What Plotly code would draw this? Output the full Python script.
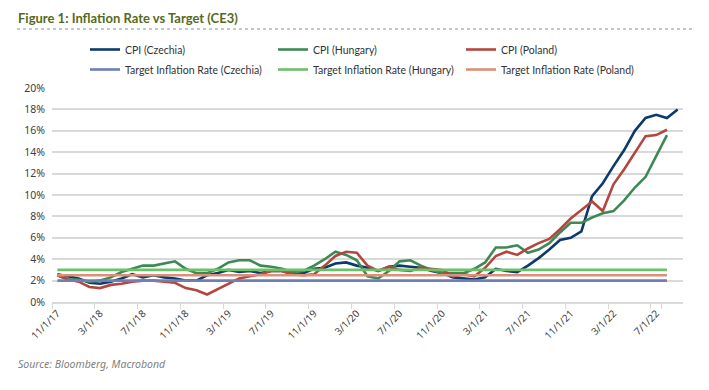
import pandas as pd
import plotly.graph_objects as go

# Monthly categories, Nov 2017 .. Sep 2022
months = pd.date_range("2017-11-01", "2022-09-01", freq="MS")
categories = [f"{d.month}/1/{d.year % 100:02d}" for d in months]

cpi_czechia = [2.6, 2.4, 2.2, 1.8, 1.7, 1.9, 2.2, 2.6, 2.3, 2.5, 2.3, 2.2,
               2.0, 2.0, 2.5, 2.7, 3.0, 2.8, 2.9, 2.7, 2.9, 2.9, 2.6, 2.7,
               3.1, 3.2, 3.6, 3.7, 3.4, 3.2, 2.9, 3.3, 3.4, 3.3, 3.2, 2.9,
               2.7, 2.3, 2.2, 2.1, 2.3, 3.1, 2.9, 2.8, 3.4, 4.1, 4.9, 5.8,
               6.0, 6.6, 9.9, 11.1, 12.7, 14.2, 16.0, 17.2, 17.5, 17.2, 18.0]

cpi_hungary = [2.5, 2.1, 2.1, 1.9, 2.0, 2.3, 2.8, 3.1, 3.4, 3.4, 3.6, 3.8,
               3.1, 2.7, 2.7, 3.1, 3.7, 3.9, 3.9, 3.4, 3.3, 3.1, 2.8, 2.9,
               3.4, 4.0, 4.7, 4.4, 3.9, 2.4, 2.2, 2.9, 3.8, 3.9, 3.4, 3.0,
               2.7, 2.7, 2.7, 3.1, 3.7, 5.1, 5.1, 5.3, 4.6, 4.9, 5.5, 6.5,
               7.4, 7.4, 7.9, 8.3, 8.5, 9.5, 10.7, 11.7, 13.7, 15.6]

cpi_poland = [2.5, 2.1, 1.9, 1.4, 1.3, 1.6, 1.7, 1.9, 2.0, 2.0, 1.9, 1.8,
              1.3, 1.1, 0.7, 1.2, 1.7, 2.2, 2.4, 2.6, 2.9, 2.9, 2.6, 2.5,
              2.6, 3.4, 4.3, 4.7, 4.6, 3.4, 2.9, 3.3, 3.0, 2.9, 3.2, 3.1,
              3.0, 2.4, 2.6, 2.4, 3.2, 4.3, 4.7, 4.4, 5.0, 5.5, 5.9, 6.8,
              7.8, 8.6, 9.4, 8.5, 11.0, 12.4, 13.9, 15.5, 15.6, 16.1]

target_czechia = 2.0
target_hungary = 3.0
target_poland = 2.5
n_target = len(cpi_hungary)

tick_labels = categories[::4]

series = [
    ("CPI (Czechia)", cpi_czechia, "#0c3a6c", "legend"),
    ("CPI (Hungary)", cpi_hungary, "#3d8953", "legend"),
    ("CPI (Poland)", cpi_poland, "#b3473f", "legend"),
    ("Target Inflation Rate (Czechia)", [target_czechia] * n_target, "#6e7eb6", "legend2"),
    ("Target Inflation Rate (Hungary)", [target_hungary] * n_target, "#6cc06a", "legend2"),
    ("Target Inflation Rate (Poland)", [target_poland] * n_target, "#dc9077", "legend2"),
]

fig = go.Figure()
for name, vals, color, leg in series:
    fig.add_trace(go.Scatter(
        x=categories[:len(vals)], y=vals, name=name, mode="lines",
        line=dict(color=color, width=2.6), legend=leg,
    ))

# The page body adds an 8px offset; figure laid out so that the
# plot area lands at x 52..683, y 88..302 of the window.
OFF = 8
W, H = 709 - 2 * OFF, 390 - 2 * OFF
L, R, T, B = 52, 683, 88, 302
PW, PH = R - L, B - T


def px(x):
    return (x - L) / PW


def py(y):
    return (B - y) / PH


FONT = "Noto Sans"
leg_common = dict(
    orientation="h", xanchor="left", yanchor="top",
    entrywidth=143, entrywidthmode="pixels",
    font=dict(family="Lato", size=10.5, color="#333333"),
    bgcolor="rgba(0,0,0,0)", traceorder="normal",
)
fig.update_layout(
    width=W, height=H,
    margin=dict(l=L - OFF, r=W - (R - OFF), t=T - OFF, b=H - (B - OFF),
                autoexpand=False),
    paper_bgcolor="white", plot_bgcolor="white",
    font=dict(family=FONT, size=10, color="#404040"),
    showlegend=True,
    legend=dict(x=px(85), y=py(35), **leg_common),
    legend2=dict(x=px(85), y=py(55), **leg_common),
    xaxis=dict(
        type="category", categoryorder="array", categoryarray=categories,
        range=[-0.5, len(categories) - 0.5], automargin=False,
        tickmode="array", tickvals=tick_labels, ticktext=tick_labels,
        tickangle=-45, tickson="boundaries",
        ticks="outside", ticklen=5, tickcolor="#d9d9d9", tickwidth=1,
        showline=True, linecolor="#d9d9d9", linewidth=1.5,
        showgrid=False, zeroline=False,
        tickfont=dict(family=FONT, size=10, color="#404040"),
    ),
    yaxis=dict(
        range=[0, 20], tickvals=list(range(0, 21, 2)), automargin=False,
        ticktext=[f"{v}%" for v in range(0, 21, 2)],
        showgrid=True, gridcolor="#d9d9d9", gridwidth=1.5,
        zeroline=False, showline=False, ticks="",
        ticklabelstandoff=6,
        tickfont=dict(family=FONT, size=10.5, color="#404040"),
    ),
)

fig.add_annotation(
    xref="paper", yref="paper", x=px(16), y=py(18),
    xanchor="left", yanchor="middle", showarrow=False,
    text="<b>Figure 1: Inflation Rate vs Target (CE3)</b>",
    font=dict(family="Lato", size=13, color="#566a1d"),
)
fig.add_shape(
    type="line", xref="paper", yref="paper",
    x0=px(17), x1=px(695), y0=py(29), y1=py(29),
    line=dict(color="#a9b6c9", width=1.5, dash="dot"),
)
fig.add_annotation(
    xref="paper", yref="paper", x=px(16), y=py(364),
    xanchor="left", yanchor="middle", showarrow=False,
    text="<i>Source: Bloomberg, Macrobond</i>",
    font=dict(family=FONT, size=10.5, color="#7f7f7f"),
)

fig.write_html("out.html")
